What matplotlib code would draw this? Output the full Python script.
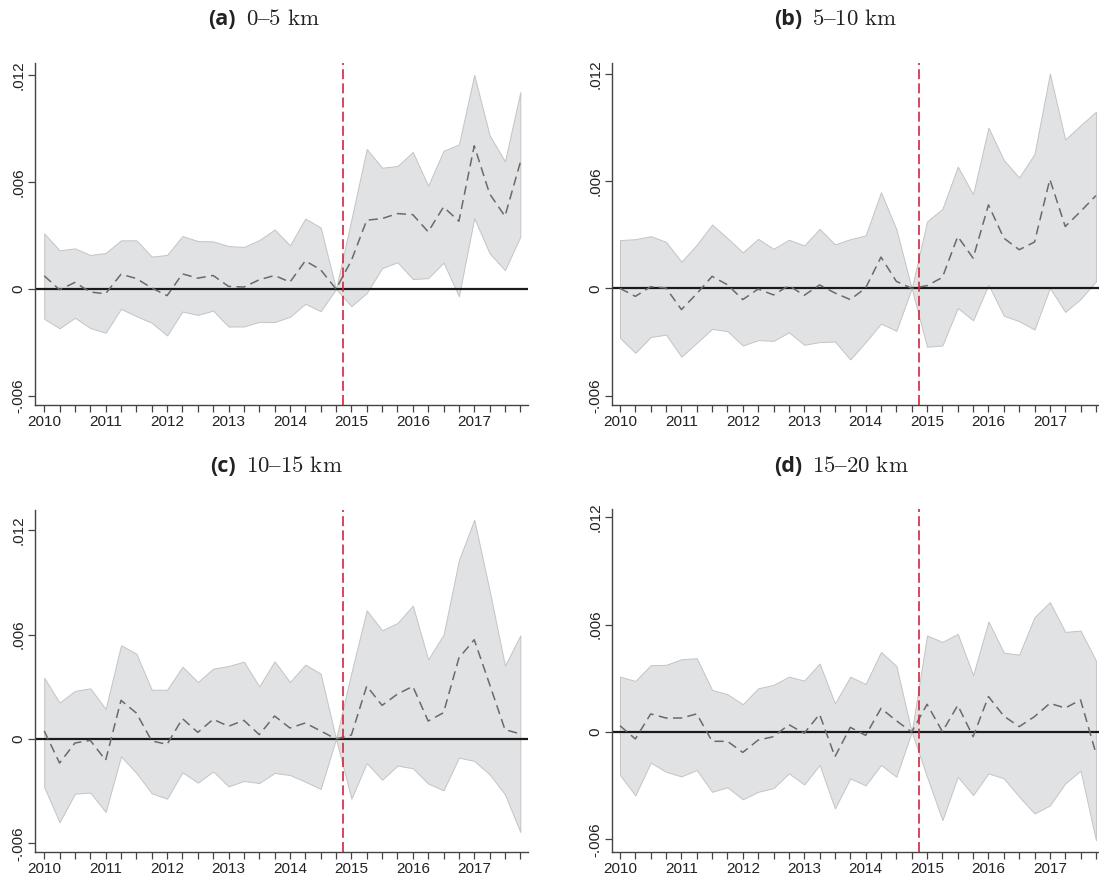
import numpy as np
import matplotlib.pyplot as plt

plt.rcParams['mathtext.fontset'] = 'cm'

# quarterly periods 2010Q1 .. 2017Q4, reference quarter 2014Q4 normalised to 0
quarters = np.arange(32)
year_labels = ['2010', '2011', '2012', '2013', '2014', '2015', '2016', '2017']
event_pos = 19.45

titles = ['(a)', '(b)', '(c)', '(d)']
subtitles = ['0–5 km', '5–10 km', '10–15 km', '15–20 km']

est_a = [0.00074, -0.00004, 0.00037, -0.00017, -0.00026, 0.00083, 0.00059, 0.00006,
         -0.00037, 0.00085, 0.00061, 0.00076, 0.00015, 0.00011, 0.00052, 0.00076,
         0.00039, 0.00158, 0.00108, 0.0, 0.0016, 0.00386, 0.00395, 0.00423,
         0.00417, 0.00321, 0.0046, 0.0038, 0.00803, 0.00534, 0.00408, 0.0071]
hi_a = [0.00312, 0.00217, 0.00228, 0.00191, 0.00202, 0.00273, 0.00273, 0.00182,
        0.00191, 0.00297, 0.00269, 0.00267, 0.00241, 0.00236, 0.00274, 0.00334,
        0.00245, 0.00395, 0.00345, 0.0, 0.0039, 0.00785, 0.0068, 0.0069,
        0.00768, 0.00579, 0.00775, 0.0081, 0.012, 0.00862, 0.00716, 0.01104]
lo_a = [-0.00167, -0.0022, -0.00161, -0.00219, -0.00245, -0.00111, -0.00152, -0.00189,
        -0.0026, -0.00126, -0.00145, -0.00121, -0.0021, -0.0021, -0.00184, -0.00185,
        -0.00156, -0.00083, -0.00124, 0.0, -0.00096, -0.00022, 0.00117, 0.0015,
        0.00056, 0.00061, 0.00148, -0.00041, 0.00397, 0.002, 0.00106, 0.00293]

est_b = [0.0, -0.00045, 0.00009, 0.00002, -0.00119, -0.0003, 0.00067, 0.0002,
         -0.00063, -0.00004, -0.00037, 0.00015, -0.00039, 0.00019, -0.00026, -0.00063,
         0.00002, 0.00175, 0.00039, 0.0, 0.00015, 0.00061, 0.0029, 0.00169,
         0.00467, 0.00281, 0.00216, 0.00259, 0.0061, 0.00346, 0.0043, 0.00519]
hi_b = [0.0027, 0.00275, 0.00292, 0.0026, 0.00149, 0.00244, 0.00357, 0.00281,
        0.00201, 0.00277, 0.00221, 0.00272, 0.0024, 0.00333, 0.00246, 0.00275,
        0.00296, 0.00538, 0.00331, 0.0, 0.00374, 0.00445, 0.00681, 0.00527,
        0.00899, 0.00718, 0.0062, 0.00752, 0.01202, 0.00833, 0.00912, 0.00988]
lo_b = [-0.00277, -0.00361, -0.00273, -0.00259, -0.00383, -0.00305, -0.00227, -0.0024,
        -0.0032, -0.0029, -0.00294, -0.00246, -0.00316, -0.00301, -0.00298, -0.00398,
        -0.00301, -0.00197, -0.00238, 0.0, -0.00327, -0.0032, -0.0011, -0.00179,
        0.0002, -0.00153, -0.00184, -0.00231, 0.00002, -0.00132, -0.0006, 0.00039]

est_c = [0.00046, -0.00138, -0.00023, -0.00008, -0.00122, 0.00222, 0.00149, -0.00011,
         -0.00031, 0.00117, 0.00038, 0.00113, 0.00073, 0.00107, 0.00025, 0.00132,
         0.00063, 0.00092, 0.00046, 0.0, 0.00023, 0.00304, 0.00193, 0.00258,
         0.00302, 0.00103, 0.00151, 0.00465, 0.0057, 0.00314, 0.00054, 0.00029]
hi_c = [0.00352, 0.00209, 0.00276, 0.00291, 0.00172, 0.00538, 0.0049, 0.00283,
        0.00283, 0.00415, 0.00327, 0.00404, 0.00419, 0.00444, 0.00302, 0.00446,
        0.00327, 0.00427, 0.00375, 0.0, 0.0038, 0.00739, 0.00624, 0.00666,
        0.00766, 0.00457, 0.00599, 0.01026, 0.01259, 0.00853, 0.00421, 0.00595]
lo_c = [-0.00276, -0.00478, -0.00314, -0.00308, -0.00419, -0.001, -0.00195, -0.00312,
        -0.00343, -0.00191, -0.00251, -0.00186, -0.00272, -0.00241, -0.00253, -0.00195,
        -0.00207, -0.00245, -0.00287, 0.0, -0.00343, -0.00138, -0.00234, -0.00153,
        -0.00168, -0.00256, -0.00295, -0.00107, -0.00126, -0.00203, -0.00318, -0.00534]

est_d = [0.00035, -0.00039, 0.00101, 0.00078, 0.00078, 0.00101, -0.00052, -0.00052,
         -0.00114, -0.00045, -0.00026, 0.00041, -0.00007, 0.00099, -0.00138, 0.00026,
         -0.00019, 0.00132, 0.00063, 0.0, 0.00155, 0.00002, 0.00149, -0.00026,
         0.00198, 0.00089, 0.0003, 0.00086, 0.0016, 0.00134, 0.00179, -0.00119]
hi_d = [0.00309, 0.00285, 0.00373, 0.00375, 0.00406, 0.00412, 0.00235, 0.00211,
        0.00155, 0.00244, 0.00263, 0.00309, 0.00287, 0.00382, 0.0016, 0.00309,
        0.00268, 0.00447, 0.00369, 0.0, 0.00539, 0.00503, 0.00548, 0.00317,
        0.00617, 0.00443, 0.00432, 0.00641, 0.00725, 0.00559, 0.00566, 0.00399]
lo_d = [-0.0024, -0.00354, -0.00171, -0.00222, -0.00248, -0.00212, -0.00334, -0.00309,
        -0.00376, -0.00334, -0.00313, -0.00231, -0.00293, -0.00184, -0.00427, -0.00259,
        -0.00298, -0.00184, -0.0025, 0.0, -0.0025, -0.00492, -0.0025, -0.00352,
        -0.00231, -0.00259, -0.00361, -0.00455, -0.0041, -0.00287, -0.00216, -0.00604]

yticks = [-0.006, 0.0, 0.006, 0.012]
ytick_labels = ['-.006', '0', '.006', '.012']


def px(x0, y0, x1, y1, w=1099, h=877):
    # pixel box -> figure fraction rect
    return [x0 / w, 1 - y1 / h, (x1 - x0) / w, (y1 - y0) / h]


def draw_panel(ax, est, lo, hi, xlim, ylim):
    ax.fill_between(quarters, lo, hi, facecolor='#e1e2e4', edgecolor='#c4c4c6',
                    linewidth=0.7, zorder=1)
    ax.axhline(0, color='#1a1a1a', linewidth=1.6, zorder=2)
    ax.plot(quarters, est, color='#6a6a6a', linewidth=1.1,
            dashes=(6, 3.5), zorder=3)
    ax.axvline(event_pos, color='#d2283c', linewidth=1.2, dashes=(6, 2.5), zorder=4)

    ax.set_xlim(*xlim)
    ax.set_ylim(*ylim)
    ax.set_xticks(quarters, minor=True)
    ax.set_xticks(quarters[::4])
    ax.set_xticklabels(year_labels)
    ax.set_yticks(yticks)
    ax.set_yticklabels(ytick_labels, rotation=90, va='center')

    for s in ['top', 'right']:
        ax.spines[s].set_visible(False)
    for s in ['left', 'bottom']:
        ax.spines[s].set_color('#444444')
        ax.spines[s].set_linewidth(1.0)
    ax.tick_params(axis='both', which='both', direction='out', length=5,
                   width=0.9, color='#444444', labelsize=11, labelcolor='#222222',
                   pad=2)
    for lab in ax.get_xticklabels() + ax.get_yticklabels():
        lab.set_family('Liberation Sans')


def main():
    fig = plt.figure(figsize=(10.99, 8.77), dpi=100)

    boxes = [(35, 63, 528, 405), (612, 63, 1099, 405),
             (35, 510, 528, 852), (612, 509, 1099, 852)]
    xlims = [(-0.6, 31.5), (-0.52, 31.2), (-0.6, 31.5), (-0.52, 31.2)]
    ylims = [(-0.0065, 0.01267), (-0.00653, 0.01261),
             (-0.00649, 0.01315), (-0.0067, 0.01245)]
    series = [(est_a, lo_a, hi_a), (est_b, lo_b, hi_b),
              (est_c, lo_c, hi_c), (est_d, lo_d, hi_d)]
    # title split point (bold tag | serif text) and baseline, in pixels
    title_pos = [(236, 25), (802, 25), (236, 472), (802, 472)]

    for k in range(4):
        ax = fig.add_axes(px(*boxes[k]))
        est, lo, hi = series[k]
        draw_panel(ax, est, lo, hi, xlims[k], ylims[k])

        tx, ty = title_pos[k]
        fig.text(tx / 1099, 1 - ty / 877, titles[k], ha='right', va='baseline',
                 fontsize=15.5, fontweight='bold', family='Open Sans', color='#222222')
        fig.text((tx + 10) / 1099, 1 - ty / 877,
                 r'$\mathrm{' + subtitles[k].replace(' ', r'\ ') + '}$',
                 ha='left', va='baseline', fontsize=16.5, color='#222222')

    fig.savefig('out.png', dpi=100)


if __name__ == "__main__":
    main()
